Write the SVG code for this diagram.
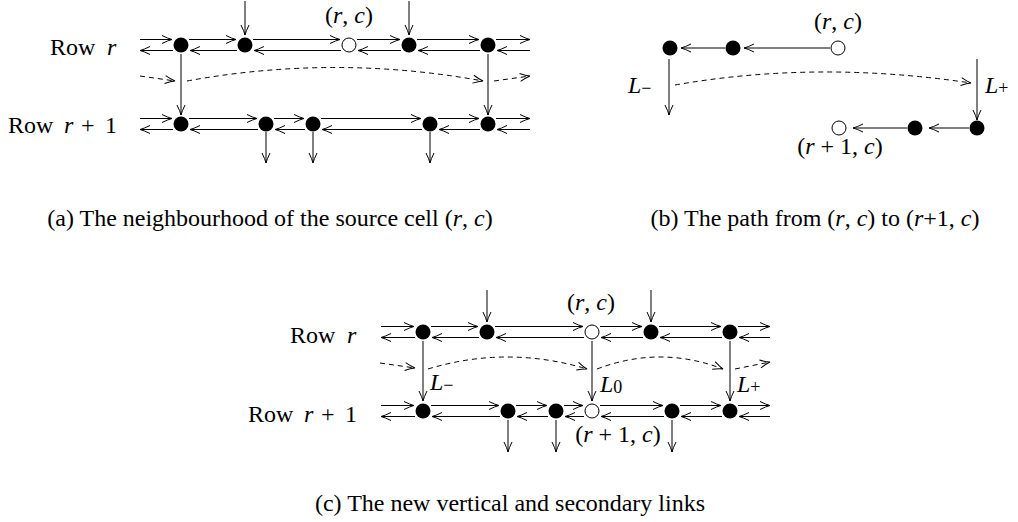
<svg xmlns="http://www.w3.org/2000/svg" width="1018" height="522" viewBox="0 0 1018 522">
<style>
text{font-family:"Liberation Serif","Times New Roman",serif;font-size:24px;fill:#000}
.i{font-style:italic}
.sub{font-size:18px}
.ln{stroke:#000;stroke-width:1;fill:none;marker-end:url(#ah)}
.d{stroke-dasharray:5 4}
.f{fill:#000}
.o{fill:#fff;stroke:#000;stroke-width:1}
</style>
<defs>
<marker id="ah" markerUnits="userSpaceOnUse" markerWidth="14" markerHeight="10" viewBox="-12 -5 14 10" refX="0" refY="0" orient="auto" overflow="visible">
<path d="M-10,-4 Q-4,-1 0,0 Q-4,1 -10,4" fill="none" stroke="#000" stroke-width="1"/>
</marker>
</defs>

<g id="connectors">
<!-- panel a row r -->
<path class="ln" d="M140,39.5 H172"/><path class="ln" d="M173,50.5 H140"/>
<path class="ln" d="M189,39.5 H236"/><path class="ln" d="M237,50.5 H190"/>
<path class="ln" d="M253,39.5 H340"/><path class="ln" d="M341,50.5 H254"/>
<path class="ln" d="M357,39.5 H400"/><path class="ln" d="M401,50.5 H358"/>
<path class="ln" d="M417,39.5 H479"/><path class="ln" d="M480,50.5 H418"/>
<path class="ln" d="M496,39.5 H530"/><path class="ln" d="M530,50.5 H497"/>
<!-- panel a row r+1 -->
<path class="ln" d="M140,118.5 H172"/><path class="ln" d="M173,129.5 H140"/>
<path class="ln" d="M189,118.5 H257"/><path class="ln" d="M258,129.5 H190"/>
<path class="ln" d="M274,118.5 H304"/><path class="ln" d="M305,129.5 H275"/>
<path class="ln" d="M321,118.5 H421"/><path class="ln" d="M422,129.5 H322"/>
<path class="ln" d="M438,118.5 H479"/><path class="ln" d="M480,129.5 H439"/>
<path class="ln" d="M496,118.5 H530"/><path class="ln" d="M530,129.5 H497"/>
<!-- panel a verticals -->
<path class="ln" d="M181,54 V115"/><path class="ln" d="M488,54 V115"/>
<path class="ln" d="M245,1 V35"/><path class="ln" d="M409,1 V35"/>
<path class="ln" d="M266,132 V163"/><path class="ln" d="M313,132 V163"/><path class="ln" d="M430,132 V163"/>
<!-- panel a dashed -->
<path class="ln d" d="M140,76 L175,81"/>
<path class="ln d" d="M187,81 Q335,54 483,81"/>
<path class="ln d" d="M494,81 L530,76"/>

<!-- panel b -->
<path class="ln" d="M830,48 H744"/><path class="ln" d="M725,48 H681"/>
<path class="ln" d="M969,128 H929"/><path class="ln" d="M907,128 H853"/>
<path class="ln" d="M669,59 V115"/><path class="ln" d="M977,59 V120"/>
<path class="ln d" d="M675,85 Q817,60 971,83"/>

<!-- panel c row r -->
<path class="ln" d="M381,326.5 H414"/><path class="ln" d="M415,337.5 H381"/>
<path class="ln" d="M431,326.5 H478"/><path class="ln" d="M479,337.5 H432"/>
<path class="ln" d="M495,326.5 H583"/><path class="ln" d="M584,337.5 H496"/>
<path class="ln" d="M600,326.5 H642"/><path class="ln" d="M643,337.5 H601"/>
<path class="ln" d="M659,326.5 H721"/><path class="ln" d="M722,337.5 H660"/>
<path class="ln" d="M738,326.5 H770"/><path class="ln" d="M770,337.5 H739"/>
<!-- panel c row r+1 -->
<path class="ln" d="M381,405.5 H414"/><path class="ln" d="M415,416.5 H381"/>
<path class="ln" d="M431,405.5 H499"/><path class="ln" d="M500,416.5 H432"/>
<path class="ln" d="M516,405.5 H547"/><path class="ln" d="M548,416.5 H517"/>
<path class="ln" d="M564,405.5 H583"/><path class="ln" d="M584,416.5 H565"/>
<path class="ln" d="M600,405.5 H663"/><path class="ln" d="M664,416.5 H601"/>
<path class="ln" d="M680,405.5 H721"/><path class="ln" d="M722,416.5 H681"/>
<path class="ln" d="M738,405.5 H770"/><path class="ln" d="M770,416.5 H739"/>
<!-- panel c verticals -->
<path class="ln" d="M423,341 V401"/><path class="ln" d="M592,341 V401"/><path class="ln" d="M730,341 V401"/>
<path class="ln" d="M487,290 V322"/><path class="ln" d="M651,290 V322"/>
<path class="ln" d="M508,420 V452"/><path class="ln" d="M556,420 V452"/><path class="ln" d="M672,420 V452"/>
<!-- panel c dashed -->
<path class="ln d" d="M380,363 L415,368"/>
<path class="ln d" d="M428,369 Q507,345 587,369"/>
<path class="ln d" d="M597,369 Q660,345 723,369"/>
<path class="ln d" d="M735,369 L770,362"/>
</g>

<!-- panel a nodes -->
<g id="a-r1"><circle class="f" cx="181" cy="45" r="7.5"/></g>
<g id="a-r2"><circle class="f" cx="245" cy="45" r="7.5"/></g>
<g id="a-r3"><circle class="o" cx="349" cy="45" r="7"/><text x="349" y="23" text-anchor="middle">(<tspan class="i">r</tspan>, <tspan class="i">c</tspan>)</text></g>
<g id="a-r4"><circle class="f" cx="409" cy="45" r="7.5"/></g>
<g id="a-r5"><circle class="f" cx="488" cy="45" r="7.5"/></g>
<g id="a-s1"><circle class="f" cx="181" cy="124" r="7.5"/></g>
<g id="a-s2"><circle class="f" cx="266" cy="124" r="7.5"/></g>
<g id="a-s3"><circle class="f" cx="313" cy="124" r="7.5"/></g>
<g id="a-s4"><circle class="f" cx="430" cy="124" r="7.5"/></g>
<g id="a-s5"><circle class="f" cx="488" cy="124" r="7.5"/></g>
<g id="a-labels">
<text y="55"><tspan x="50">Row</tspan><tspan class="i" x="107">r</tspan></text>
<text y="133"><tspan x="8">Row</tspan><tspan class="i" x="64">r</tspan><tspan x="81">+</tspan><tspan x="105">1</tspan></text>
<text x="270" y="226" text-anchor="middle">(a) The neighbourhood of the source cell (<tspan class="i">r</tspan>, <tspan class="i">c</tspan>)</text>
</g>

<!-- panel b nodes -->
<g id="b-t1"><circle class="f" cx="670" cy="48" r="7.5"/></g>
<g id="b-t2"><circle class="f" cx="733" cy="48" r="7.5"/></g>
<g id="b-t3"><circle class="o" cx="838" cy="48" r="7"/><text x="838" y="29" text-anchor="middle">(<tspan class="i">r</tspan>, <tspan class="i">c</tspan>)</text></g>
<g id="b-b1"><circle class="o" cx="839" cy="128" r="7"/><text x="840" y="154" text-anchor="middle">(<tspan class="i">r</tspan> + 1, <tspan class="i">c</tspan>)</text></g>
<g id="b-b2"><circle class="f" cx="915" cy="128" r="7.5"/></g>
<g id="b-b3"><circle class="f" cx="977" cy="128" r="7.5"/></g>
<g id="b-labels">
<text x="628" y="93"><tspan class="i">L</tspan><tspan class="sub" dy="1">−</tspan></text>
<text x="985" y="93"><tspan class="i">L</tspan><tspan class="sub" dy="1">+</tspan></text>
<text x="815" y="226" text-anchor="middle">(b) The path from (<tspan class="i">r</tspan>, <tspan class="i">c</tspan>) to (<tspan class="i">r</tspan>+1, <tspan class="i">c</tspan>)</text>
</g>

<!-- panel c nodes -->
<g id="c-r1"><circle class="f" cx="423" cy="332" r="7.5"/></g>
<g id="c-r2"><circle class="f" cx="487" cy="332" r="7.5"/></g>
<g id="c-r3"><circle class="o" cx="592" cy="332" r="7"/><text x="591" y="310" text-anchor="middle">(<tspan class="i">r</tspan>, <tspan class="i">c</tspan>)</text></g>
<g id="c-r4"><circle class="f" cx="651" cy="332" r="7.5"/></g>
<g id="c-r5"><circle class="f" cx="730" cy="332" r="7.5"/></g>
<g id="c-s1"><circle class="f" cx="423" cy="411" r="7.5"/></g>
<g id="c-s2"><circle class="f" cx="508" cy="411" r="7.5"/></g>
<g id="c-s3"><circle class="f" cx="556" cy="411" r="7.5"/></g>
<g id="c-s4"><circle class="o" cx="592" cy="411" r="7"/><text x="618" y="442" text-anchor="middle">(<tspan class="i">r</tspan> + 1, <tspan class="i">c</tspan>)</text></g>
<g id="c-s5"><circle class="f" cx="672" cy="411" r="7.5"/></g>
<g id="c-s6"><circle class="f" cx="730" cy="411" r="7.5"/></g>
<g id="c-labels">
<text y="343"><tspan x="290">Row</tspan><tspan class="i" x="347">r</tspan></text>
<text y="422"><tspan x="248">Row</tspan><tspan class="i" x="304">r</tspan><tspan x="321">+</tspan><tspan x="345">1</tspan></text>
<text x="430" y="390"><tspan class="i">L</tspan><tspan class="sub" dy="1">−</tspan></text>
<text x="600" y="392"><tspan class="i">L</tspan><tspan class="sub" dy="1">0</tspan></text>
<text x="737" y="392"><tspan class="i">L</tspan><tspan class="sub" dy="1">+</tspan></text>
<text x="510" y="511" text-anchor="middle">(c) The new vertical and secondary links</text>
</g>
</svg>
